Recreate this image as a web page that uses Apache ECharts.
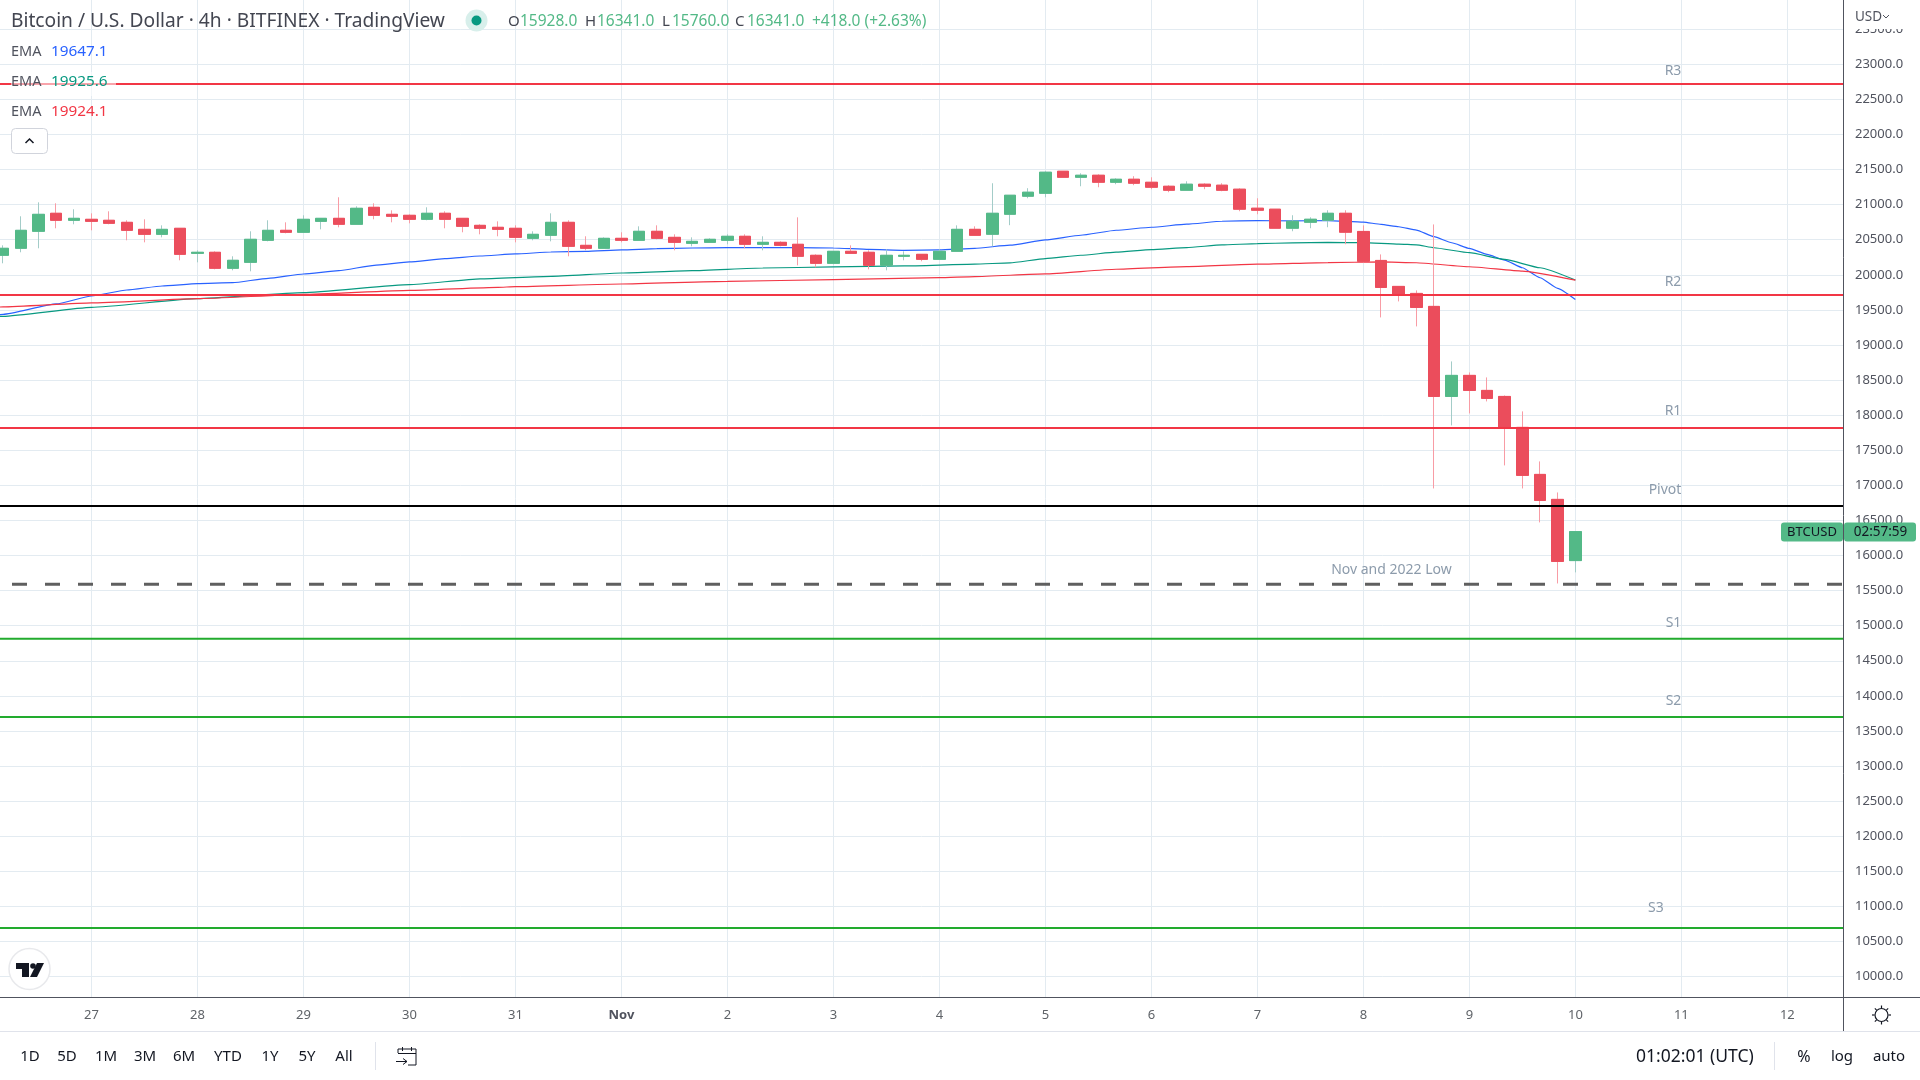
<!DOCTYPE html>
<html>
<head>
<meta charset="utf-8">
<style>html,body{margin:0;padding:0;background:#fff}#c{width:1920px;height:1080px}</style>
<script src="https://cdn.jsdelivr.net/npm/echarts@6/dist/echarts.min.js"></script>
</head>
<body>
<div id="c"></div>
<script>
// ---------- data ----------
const openVals = [20278,20378,20620,20877,20777,20791,20777,20748,20648,20577,
20663,20306,20321,20093,20178,20492,20634,20606,20762,20805,
20720,20962,20862,20848,20791,20877,20805,20705,20677,20663,
20520,20563,20748,20420,20378,20520,20492,20620,20534,20449,
20463,20492,20549,20435,20463,20435,20278,20164,20335,20321,
20135,20264,20292,20221,20335,20648,20578,20863,21120,21162,
21476,21390,21419,21319,21362,21319,21262,21205,21291,21277,
21220,20949,20935,20664,20749,20778,20877,20618,20205,19835,
19735,19550,18267,18567,18353,18267,17826,17156,16800,15928];
const closeVals = [20378,20634,20862,20777,20805,20762,20734,20634,20577,20648,
20292,20321,20093,20207,20506,20634,20606,20791,20805,20720,
20948,20848,20834,20791,20877,20791,20691,20663,20648,20534,
20577,20748,20406,20378,20520,20492,20620,20520,20463,20477,
20506,20549,20435,20463,20420,20264,20164,20335,20306,20135,
20278,20278,20221,20335,20648,20563,20877,21134,21177,21462,
21390,21419,21319,21362,21305,21248,21205,21291,21262,21205,
20935,20920,20664,20764,20792,20877,20607,20191,19820,19720,
19535,18267,18567,18353,18239,17826,17142,16785,15916,16341];
const lowVals = [20164,20321,20378,20663,20720,20634,20720,20492,20463,20534,
20207,20178,20078,20064,20050,20477,20591,20606,20648,20677,
20720,20791,20748,20734,20777,20663,20606,20577,20549,20463,
20492,20477,20264,20349,20378,20463,20492,20506,20349,20406,
20463,20435,20378,20349,20406,20135,20107,20150,20306,20078,
20064,20207,20193,20221,20335,20563,20407,20707,21091,21105,
21390,21262,21248,21291,21277,21220,21177,21205,21220,21191,
20906,20863,20664,20621,20664,20678,20436,20177,19393,19621,
19265,16956,17854,18025,18196,17284,16956,16472,15602,15760];
const highVals = [20420,20834,21033,21019,20934,20876,20905,20777,20791,20705,
20663,20349,20335,20264,20620,20777,20748,20848,20805,21105,
20976,21019,20919,20862,20962,20905,20805,20720,20762,20705,
20620,20876,20777,20549,20534,20606,20691,20705,20577,20534,
20520,20577,20577,20549,20477,20819,20292,20335,20420,20349,
20363,20335,20292,20363,20705,20691,21305,21134,21234,21476,
21476,21447,21433,21376,21405,21390,21277,21333,21305,21305,
21234,21091,20935,20849,20820,20920,20920,20704,20291,19835,
19778,20718,18766,18609,18538,18281,18054,17341,16899,16341];

const emaBlue = [[-1,19405],[0,19437],[3,19585],[5,19698],[7,19784],[9,19841],[11,19874],[13,19888],[15,19950],[17,20012],[19,20059],
[21,20135],[23,20183],[25,20230],[27,20268],[29,20297],[31,20325],[33,20335],[35,20354],[37,20373],[39,20382],
[41,20387],[43,20387],[45,20387],[47,20382],[49,20363],[51,20349],[53,20356],[55,20378],[57,20422],[59,20497],
[61,20564],[63,20635],[65,20678],[67,20721],[69,20763],[71,20773],[73,20768],[75,20773],[77,20751],[78,20718],[79,20685],
[80,20637],[81,20543],[82,20457],[83,20376],[84,20291],[85,20210],[86,20101],[87,19958],[88,19806],[89,19647.1]];
const emaGreen = [[-1,19400],[0,19409],[5,19537],[11,19660],[17,19746],[23,19860],[27,19943],[31,19979],[35,20026],[39,20059],[43,20097],
[47,20112],[51,20126],[55,20153],[57,20170],[59,20231],[61,20279],[63,20322],[65,20360],[67,20388],[69,20426],
[71,20445],[73,20455],[75,20462],[77,20458],[79,20438],[80,20428],[81,20386],[83,20315],[85,20220],[87,20101],[89,19925.6]];
const emaRed = [[-1,19535],[0,19542],[5,19599],[11,19660],[17,19722],[23,19779],[28,19822],[29,19831],[35,19869],[41,19907],[47,19931],
[53,19960],[55,19975],[59,20013],[63,20079],[67,20117],[71,20151],[75,20175],[78,20183],[80,20172],[83,20115],[86,20053],[89,19924.1]];

const levelNames  = ['R3','R2','R1','Pivot','Nov and 2022 Low','S1','S2','S3'];
const levelValues = [22719,19713,17818,16706,15590,14815,13700,10694];
const levelLabelX = [95,95,95,95,82,95,95,94];
const levelLabelY = [22905,19898,18060,16935,15799,15039,13928,10981];

const dayIndex  = [5,11,17,23,29,35,41,47,53,59,65,71,77,83,89,95,101];
const dayLabels = ['27','28','29','30','31','Nov','2','3','4','5','6','7','8','9','10','11','12'];
const priceTicks = [10000,10500,11000,11500,12000,12500,13000,13500,14000,14500,15000,15500,16000,16500,17000,17500,18000,18500,19000,19500,20000,20500,21000,21500,22000,22500,23000,23500];

const rangeButtons = ['1D','5D','1M','3M','6M','YTD','1Y','5Y','All'];
const rangeCenters = [30,67,106,145,184,228,270,307,344];

const xMin = -0.181, xMax = 104.15, yMin = 9705, yMax = 23916;

// ---------- colours ----------
const UP='#53b987', DOWN='#eb4d5c', UPW='#a3ccc8', DOWNW='#f89ca5';
const RED='#f23645', GRN='#22ab2e', BLUEL='#2962ff', TEAL='#089981';
const GRID='#e3ebf1', AX='#50535e', FONT='"Noto Sans", sans-serif';

const wickData = openVals.map((o,i)=>[i,o,closeVals[i],lowVals[i],highVals[i]]);
const bodyData = openVals.map((o,i)=>[i,o,closeVals[i],Math.min(o,closeVals[i]),Math.max(o,closeVals[i])]);

function emaSeries(name,data,color){
  return {type:'line',name,data,showSymbol:false,symbol:'none',smooth:0.15,smoothMonotone:'x',z:3,silent:true,
          lineStyle:{color,width:1.2},animation:false};
}
const levelColors = [RED,RED,RED,'#000000','#5f5f5f',GRN,GRN,GRN];
const levelSeries = levelValues.map((v,i)=>({
  type:'line',name:levelNames[i],data:[[xMin,v],[xMax,v]],symbol:'none',z:5,silent:true,animation:false,
  lineStyle:{color:levelColors[i],width:i===4?3:2,type:i===4?[15,18]:'solid',dashOffset:i===4?21:0}
}));

// ---------- page furniture ----------
const g=[];
function T(x,y,text,fill,size,align,weight){
  g.push({type:'text',z:100,silent:true,style:{x,y,text,fill,align:align||'left',verticalAlign:'middle',
    font:(weight||'normal')+' '+(size||14)+'px '+FONT}});
}
function R(x,y,w,h,fill,r,stroke,z){
  g.push({type:'rect',z:z||90,silent:true,shape:{x,y,width:w,height:h,r:r||0},style:{fill,stroke:stroke||null,lineWidth:stroke?1:0}});
}
function L(x1,y1,x2,y2,stroke,w,z){
  g.push({type:'line',z:z||95,silent:true,shape:{x1,y1,x2,y2},style:{stroke,lineWidth:w||1}});
}
function P(points,stroke,fill,w){
  g.push({type:fill?'polygon':'polyline',z:101,silent:true,shape:{points},style:{stroke:stroke||null,fill:fill||null,lineWidth:w||1}});
}
// covers under price axis area
R(1844,0,76,29,'#ffffff',0,null,95);
// axes
L(1843.5,0,1843.5,1031,AX,1);
L(0,997.5,1920,997.5,AX,1);
L(0,1031.5,1920,1031.5,'#e0e3eb',1);
L(375.5,1042,375.5,1070,'#e0e3eb',1);
L(1774.5,1042,1774.5,1070,'#e0e3eb',1);
// header
T(11,22,'Bitcoin / U.S. Dollar · 4h · BITFINEX · TradingView','#434651',19.2);
g.push({type:'circle',z:100,silent:true,shape:{cx:476.5,cy:20.5,r:11},style:{fill:'#d8efeb'}});
g.push({type:'circle',z:101,silent:true,shape:{cx:476.5,cy:20.5,r:5},style:{fill:TEAL}});
const ohlcLab=[['O',508],['H',585],['L',662],['C',735]];
const ohlcVal=[['15928.0',520],['16341.0',597],['15760.0',672],['16341.0',747],['+418.0 (+2.63%)',812]];
ohlcLab.forEach(a=>T(a[1],22,a[0],'#434651',15));
ohlcVal.forEach(a=>T(a[1],22,a[0],UP,15.5));
// indicator legend
R(11,72,105,24,'rgba(255,255,255,0.55)',0,null,90);
[['19647.1',BLUEL,51.7],['19925.6',TEAL,81.7],['19924.1',RED,111.7]].forEach(a=>{
  T(11,a[2],'EMA','#50535e',14.5);
  T(51,a[2],a[0],a[1],15.3);
});
R(11.5,128.5,36,25,'#ffffff',4,'#d1d4dc');
P([[25.5,143],[29.5,139],[33.5,143]],'#131722',null,1.5);
// logo
g.push({type:'circle',z:100,silent:true,shape:{cx:29.5,cy:969,r:20.5},style:{fill:'#ffffff',stroke:'#e8e9ec',lineWidth:1.5}});
P([[16,963],[29,963],[29,977],[22,977],[22,969],[16,969]],null,'#131722');
P([[37,963],[44,963],[37,977],[30,977]],null,'#131722');
g.push({type:'circle',z:101,silent:true,shape:{cx:33,cy:966,r:2.8},style:{fill:'#131722'}});
// currency
T(1855,17,'USD','#50535e',13.5);
P([[1883,15],[1886,18],[1889,15]],'#50535e',null,1);
// last-price tags
R(1781,522.5,62,19,UP,3);
R(1844,522.5,72,19,UP,3);
T(1812,532.5,'BTCUSD','#131722',13,'center');
T(1880.5,532.5,'02:57:59','#131722',13.5,'center');
// bottom toolbar
rangeButtons.forEach((t,i)=>T(rangeCenters[i],1057,t,'#131722',15,'center'));
T(1636,1057,'01:02:01 (UTC)','#131722',17.5);
T(1804,1057,'%','#131722',16,'center');
T(1842,1057,'log','#131722',15,'center');
T(1889,1057,'auto','#131722',15,'center');
// calendar icon
P([[398,1053],[398,1049],[416,1049],[416,1065],[408,1065]],'#131722',null,1);
L(398,1053.5,416,1053.5,'#131722',1,101);
L(402.5,1047,402.5,1051,'#131722',1,101);
L(411.5,1047,411.5,1051,'#131722',1,101);
L(396,1061.5,407,1061.5,'#131722',1,101);
P([[403,1058.5],[407,1061.5],[403,1064.5]],'#131722',null,1);
// gear icon
g.push({type:'circle',z:101,silent:true,shape:{cx:1881.5,cy:1015,r:6.5},style:{fill:'#fff',stroke:'#131722',lineWidth:1.2}});
[[0,-1],[0,1],[1,0],[-1,0],[.7,.7],[-.7,.7],[.7,-.7],[-.7,-.7]].forEach(d=>{
  L(1881.5+d[0]*7,1015+d[1]*7,1881.5+d[0]*9.5,1015+d[1]*9.5,'#131722',1.2,101);
});

const chart = echarts.init(document.getElementById('c'),null,{renderer:'canvas'});
chart.setOption({
  animation:false,
  backgroundColor:'#ffffff',
  grid:{left:0,top:0,width:1843,height:997.3,containLabel:false},
  xAxis:{type:'value',min:xMin,max:xMax,
    axisLine:{show:false},
    axisTick:{show:false,customValues:dayIndex},
    splitLine:{show:true,lineStyle:{color:GRID,width:1}},
    axisLabel:{show:true,margin:11,color:'#5f6368',fontFamily:FONT,fontSize:13,customValues:dayIndex,
      formatter:v=>{const s=dayLabels[dayIndex.indexOf(v)];return s==='Nov'?'{b|Nov}':s;},
      rich:{b:{fontWeight:'bold',color:'#50535e',fontFamily:FONT,fontSize:13}}}
  },
  yAxis:{type:'value',position:'right',min:yMin,max:yMax,
    axisLine:{show:false},
    axisTick:{show:false,customValues:priceTicks},
    splitLine:{show:true,lineStyle:{color:GRID,width:1}},
    axisLabel:{show:true,margin:12,color:'#50535e',fontFamily:FONT,fontSize:13,customValues:priceTicks,
      padding:[4,0,0,0],formatter:v=>v.toFixed(1)}
  },
  series:[
    emaSeries('EMA blue',emaBlue,BLUEL),
    emaSeries('EMA green',emaGreen,TEAL),
    emaSeries('EMA red',emaRed,RED),
    {type:'candlestick',name:'wicks',data:wickData,barWidth:12,z:4,silent:true,
      itemStyle:{color:UPW,color0:DOWNW,borderColor:UPW,borderColor0:DOWNW,borderWidth:1}},
    {type:'candlestick',name:'bodies',data:bodyData,barWidth:12,z:4,silent:true,
      itemStyle:{color:UP,color0:DOWN,borderColor:UP,borderColor0:DOWN,borderWidth:1}},
    ...levelSeries,
    {type:'scatter',name:'level labels',symbolSize:0,z:6,silent:true,
      data:levelNames.map((n,i)=>({value:[levelLabelX[i],levelLabelY[i]],name:n})),
      label:{show:true,position:'left',distance:0,formatter:p=>p.name,color:'#6f8296',fontFamily:FONT,fontSize:14}}
  ],
  graphic:{elements:g}
});
</script>
</body>
</html>
